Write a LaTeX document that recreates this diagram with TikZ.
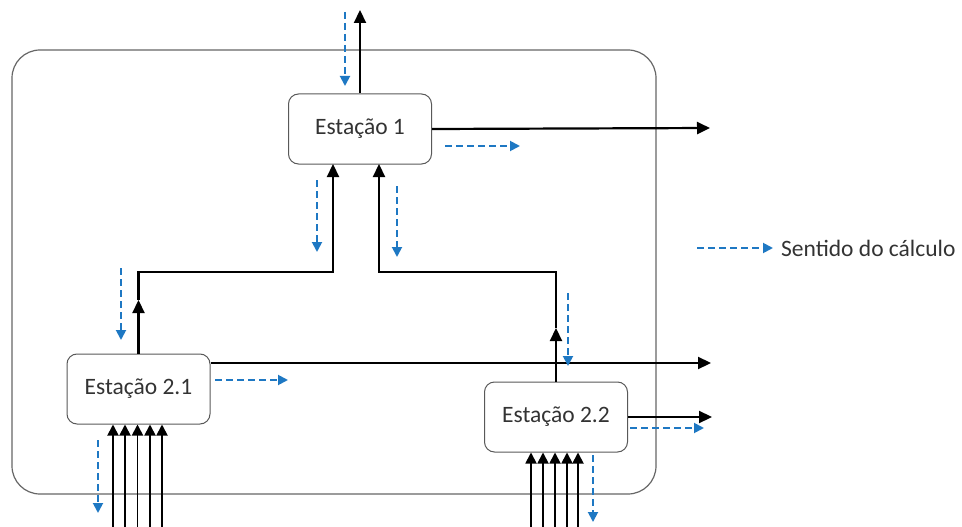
\documentclass[tikz,border=0pt]{standalone}
\usepackage{fontspec}
\setmainfont{Carlito}
\usetikzlibrary{arrows.meta,calc}
\definecolor{calcblue}{RGB}{30,120,195}
\begin{document}
\begin{tikzpicture}[x=1pt,y=-1pt,
  station/.style={draw=black!65, line width=1pt, rounded corners=10pt, fill=white, inner sep=0pt,
    minimum width=143pt, minimum height=70pt, font=\fontsize{23.5}{26}\selectfont, text=black!80},
  flow/.style={line width=2.2pt, black, -{Triangle[length=13pt,width=12pt]}},
  inflow/.style={line width=1.8pt, black, -{Triangle[length=11pt,width=11pt]}},
  calcdir/.style={calcblue, line width=1.9pt, dash pattern=on 7pt off 4pt, -{Triangle[length=10pt,width=10pt]}}]
\useasboundingbox (0,0) rectangle (962,527);
% outer boundary
\draw[black!60, line width=1.2pt, rounded corners=28pt] (12,50) rectangle (656,494);
% stations
\node[station] (s1) at (360,129) {Estação 1};
\node[station] (s21) at (138.5,389) {Estação 2.1};
\node[station] (s22) at (556,417) {Estação 2.2};
% free ends
\coordinate (t1) at (360,10);
\coordinate (o1) at (710,128);
\coordinate (o21) at (711,363);
\coordinate (o22) at (712,417);
\coordinate (m21) at (138.5,300);
\coordinate (m22) at (556,328);
\coordinate (a1) at (333,164);
\coordinate (a2) at (379,164);
% black flows
\draw[flow] (s1.north) -- (t1);
\draw[flow] (s1.east) -- (o1);
\draw[flow] ($(s21.east)+(0,-26)$) -- (o21);
\draw[flow] (s22.east) -- (o22);
\draw[flow] (s21.north) -- (m21);
\draw[flow] (m21) -- (138.5,272) -| (a1);
\draw[flow] (s22.north) -- (m22);
\draw[flow] (m22) -- (556,272) -| (a2);
% inputs
\foreach \x in {113,125,137.5,150,162}{
  \draw[inflow] (\x,527) -- (s21.south -| {\x,0});
}
\foreach \x in {531,543,555,567,578}{
  \draw[inflow] (\x,527) -- (s22.south -| {\x,0});
}
% calculation direction (blue dashed)
\draw[calcdir] (345,12) -- (345,86);
\draw[calcdir] (445,146) -- (520,146);
\draw[calcdir] (317,180) -- (317,252);
\draw[calcdir] (397,186) -- (397,257);
\draw[calcdir] (121,268) -- (121,340);
\draw[calcdir] (215,380) -- (288,380);
\draw[calcdir] (568,293) -- (568,366);
\draw[calcdir] (630,428) -- (704,428);
\draw[calcdir] (98,440) -- (98,513);
\draw[calcdir] (593,455) -- (593,522);
% legend
\coordinate (l1) at (697,248);
\coordinate (l2) at (773,248);
\draw[calcdir] (l1) -- (l2);
\node[anchor=west, font=\fontsize{23.5}{26}\selectfont, text=black!80, inner sep=0pt] (leg) at (781,248) {Sentido do cálculo};
\end{tikzpicture}
\end{document}
